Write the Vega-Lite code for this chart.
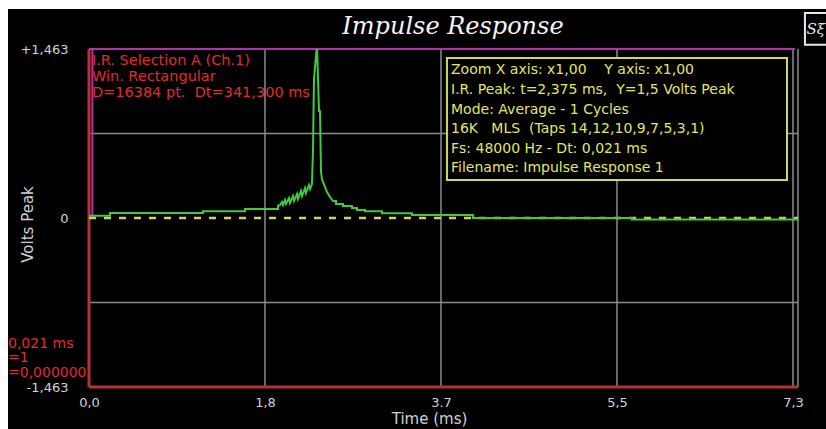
{
  "$schema": "https://vega.github.io/schema/vega-lite/v6.json",
  "width": 709,
  "height": 338,
  "autosize": {"type": "none"},
  "padding": {"left": 89, "top": 49, "right": 28, "bottom": 42},
  "background": "white",
  "config": {
    "view": {"stroke": null},
    "axis": {
      "grid": false, "domain": false, "ticks": false,
      "labelColor": "#d2d2d2", "titleColor": "#d2d2d2",
      "labelFont": "DejaVu Sans", "titleFont": "DejaVu Sans", "titleFontWeight": "normal",
      "labelFlush": false, "labelOverlap": false
    }
  },
  "datasets": {
    "ir": [
      {"i": 1, "t": 0.0, "v": 0.02}, {"i": 2, "t": 0.218, "v": 0.02}, {"i": 3, "t": 0.218, "v": 0.043},
      {"i": 4, "t": 1.182, "v": 0.043}, {"i": 5, "t": 1.182, "v": 0.058}, {"i": 6, "t": 1.618, "v": 0.058},
      {"i": 7, "t": 1.618, "v": 0.078}, {"i": 8, "t": 1.96, "v": 0.078}, {"i": 9, "t": 1.96, "v": 0.106},
      {"i": 10, "t": 1.981, "v": 0.113}, {"i": 11, "t": 2.001, "v": 0.139}, {"i": 12, "t": 2.012, "v": 0.113},
      {"i": 13, "t": 2.032, "v": 0.156}, {"i": 14, "t": 2.043, "v": 0.121}, {"i": 15, "t": 2.074, "v": 0.173},
      {"i": 16, "t": 2.084, "v": 0.13}, {"i": 17, "t": 2.115, "v": 0.19}, {"i": 18, "t": 2.126, "v": 0.147},
      {"i": 19, "t": 2.157, "v": 0.208}, {"i": 20, "t": 2.167, "v": 0.164}, {"i": 21, "t": 2.198, "v": 0.234},
      {"i": 22, "t": 2.209, "v": 0.19}, {"i": 23, "t": 2.24, "v": 0.26}, {"i": 24, "t": 2.25, "v": 0.216},
      {"i": 25, "t": 2.281, "v": 0.286}, {"i": 26, "t": 2.292, "v": 0.251}, {"i": 27, "t": 2.312, "v": 0.294},
      {"i": 28, "t": 2.323, "v": 0.597}, {"i": 29, "t": 2.333, "v": 1.203}, {"i": 30, "t": 2.364, "v": 1.5},
      {"i": 31, "t": 2.385, "v": 0.926}, {"i": 32, "t": 2.395, "v": 0.926}, {"i": 33, "t": 2.406, "v": 0.398},
      {"i": 34, "t": 2.416, "v": 0.338}, {"i": 35, "t": 2.426, "v": 0.312}, {"i": 36, "t": 2.468, "v": 0.225},
      {"i": 37, "t": 2.499, "v": 0.182}, {"i": 38, "t": 2.53, "v": 0.147}, {"i": 39, "t": 2.561, "v": 0.147},
      {"i": 40, "t": 2.561, "v": 0.121}, {"i": 41, "t": 2.634, "v": 0.121}, {"i": 42, "t": 2.634, "v": 0.104},
      {"i": 43, "t": 2.727, "v": 0.104}, {"i": 44, "t": 2.727, "v": 0.087}, {"i": 45, "t": 2.779, "v": 0.087},
      {"i": 46, "t": 2.779, "v": 0.069}, {"i": 47, "t": 2.862, "v": 0.069}, {"i": 48, "t": 2.862, "v": 0.058},
      {"i": 49, "t": 3.038, "v": 0.058}, {"i": 50, "t": 3.038, "v": 0.041}, {"i": 51, "t": 3.349, "v": 0.041},
      {"i": 52, "t": 3.349, "v": 0.025}, {"i": 53, "t": 3.982, "v": 0.025}, {"i": 54, "t": 3.982, "v": 0.0},
      {"i": 55, "t": 5.63, "v": 0.0}, {"i": 56, "t": 5.63, "v": -0.012}, {"i": 57, "t": 7.352, "v": -0.012}
    ],
    "vgrid": [{"t": 1.825}, {"t": 3.65}, {"t": 5.475}, {"t": 7.3}, {"t": 7.352}],
    "hgrid": [{"v": 0.7315}, {"v": -0.7315}]
  },
  "layer": [
    {
      "data": {"values": [{}]},
      "mark": {"type": "rect", "color": "#000000"},
      "encoding": {
        "x": {"datum": -0.84, "type": "quantitative"},
        "x2": {"datum": 8},
        "y": {"datum": 1.81, "type": "quantitative"},
        "y2": {"datum": -2.3}
      }
    },
    {
      "data": {"name": "vgrid"},
      "mark": {"type": "rule", "color": "#8c8c8c", "strokeWidth": 1.5},
      "encoding": {
        "x": {"field": "t", "type": "quantitative"},
        "y": {"datum": -1.463, "type": "quantitative"},
        "y2": {"datum": 1.463}
      }
    },
    {
      "data": {"name": "hgrid"},
      "mark": {"type": "rule", "color": "#8c8c8c", "strokeWidth": 1.5},
      "encoding": {
        "y": {"field": "v", "type": "quantitative"},
        "x": {"datum": 0, "type": "quantitative"},
        "x2": {"datum": 7.352}
      }
    },
    {
      "data": {"values": [{}]},
      "mark": {"type": "rect", "fill": "#000000", "stroke": "#d6d652", "strokeWidth": 2},
      "encoding": {
        "x": {"datum": 3.712, "type": "quantitative"},
        "x2": {"datum": 7.238},
        "y": {"datum": 1.385, "type": "quantitative"},
        "y2": {"datum": 0.329}
      }
    },
    {
      "data": {"values": [{}]},
      "mark": {"type": "rule", "color": "#b42fb4", "strokeWidth": 2},
      "encoding": {
        "y": {"datum": 1.463, "type": "quantitative"},
        "x": {"datum": 0, "type": "quantitative"},
        "x2": {"datum": 7.32}
      }
    },
    {
      "data": {"values": [{}]},
      "mark": {"type": "rule", "color": "#b42fb4", "strokeWidth": 2},
      "encoding": {
        "x": {"datum": 0.035, "type": "quantitative"},
        "y": {"datum": 0, "type": "quantitative"},
        "y2": {"datum": 1.463}
      }
    },
    {
      "data": {"values": [{}]},
      "mark": {"type": "rule", "color": "#b83232", "strokeWidth": 3},
      "encoding": {
        "x": {"datum": 0, "type": "quantitative"},
        "y": {"datum": -1.463, "type": "quantitative"},
        "y2": {"datum": 1.463}
      }
    },
    {
      "data": {"values": [{}]},
      "mark": {"type": "rule", "color": "#b83232", "strokeWidth": 3},
      "encoding": {
        "y": {"datum": -1.463, "type": "quantitative"},
        "x": {"datum": 0, "type": "quantitative"},
        "x2": {"datum": 7.352}
      }
    },
    {
      "data": {"values": [{}]},
      "mark": {"type": "rule", "color": "#d2d25a", "strokeWidth": 2.5, "strokeDash": [7, 8]},
      "encoding": {
        "y": {"datum": 0, "type": "quantitative"},
        "x": {"datum": 0, "type": "quantitative"},
        "x2": {"datum": 7.352}
      }
    },
    {
      "data": {"name": "ir"},
      "mark": {"type": "line", "color": "#3ccc3c", "strokeWidth": 2, "clip": true},
      "encoding": {
        "x": {
          "field": "t", "type": "quantitative",
          "scale": {"domain": [0, 7.352], "nice": false, "zero": false},
          "axis": {
            "zindex": 2,
            "values": [0, 1.825, 3.65, 5.475, 7.3],
            "labelExpr": "datum.value == 0 ? '0,0' : datum.value < 2 ? '1,8' : datum.value < 4 ? '3.7' : datum.value < 6 ? '5,5' : '7,3'",
            "labelFontSize": 13, "labelPadding": 9, "labelDx": 4,
            "title": "Time (ms)", "titleFontSize": 15, "titleX": 340, "titleY": 24,
            "titleAlign": "center", "titleBaseline": "top"
          }
        },
        "y": {
          "field": "v", "type": "quantitative",
          "scale": {"domain": [-1.463, 1.463], "nice": false, "zero": false},
          "axis": {
            "zindex": 2,
            "values": [-1.463, 0, 1.463],
            "labelExpr": "datum.value > 0 ? '+1,463' : datum.value < 0 ? '-1,463' : '0'",
            "labelFontSize": 13, "labelPadding": 21, "labelBaseline": "middle",
            "title": "Volts Peak", "titleFontSize": 15, "titleX": -62, "titleY": 175,
            "titleAngle": 270, "titleAlign": "center", "titleBaseline": "middle"
          }
        },
        "order": {"field": "i", "type": "quantitative"}
      }
    },
    {
      "data": {"values": [{}]},
      "mark": {
        "type": "text", "align": "center", "baseline": "alphabetic", "font": "DejaVu Serif",
        "fontStyle": "italic", "fontSize": 24, "color": "#f4f4f4", "text": "Impulse Response"
      },
      "encoding": {
        "x": {"datum": 3.774, "type": "quantitative"},
        "y": {"datum": 1.593, "type": "quantitative"}
      }
    },
    {
      "data": {"values": [{}]},
      "mark": {
        "type": "text", "align": "left", "baseline": "top", "font": "DejaVu Sans", "fontSize": 14.5,
        "lineHeight": 16, "color": "#e42a2a",
        "text": ["I.R. Selection A (Ch.1)", "Win. Rectangular", "D=16384 pt. \u00a0Dt=341,300 ms"]
      },
      "encoding": {
        "x": {"datum": 0.03, "type": "quantitative"},
        "y": {"datum": 1.42, "type": "quantitative"}
      }
    },
    {
      "data": {"values": [{}]},
      "mark": {
        "type": "text", "align": "left", "baseline": "top", "font": "DejaVu Sans", "fontSize": 14,
        "lineHeight": 14.5, "color": "#e42a2a",
        "text": ["0,021 ms", "=1", "=0,000000"]
      },
      "encoding": {
        "x": {"datum": -0.84, "type": "quantitative"},
        "y": {"datum": -1.03, "type": "quantitative"}
      }
    },
    {
      "data": {"values": [{}]},
      "mark": {
        "type": "text", "align": "left", "baseline": "top", "font": "DejaVu Sans", "fontSize": 14,
        "lineHeight": 19.6, "color": "#e6e65e",
        "text": [
          "Zoom X axis: x1,00 \u00a0\u00a0\u00a0Y axis: x1,00",
          "I.R. Peak: t=2,375 ms, \u00a0Y=1,5 Volts Peak",
          "Mode: Average - 1 Cycles",
          "16K \u00a0\u00a0MLS \u00a0(Taps 14,12,10,9,7,5,3,1)",
          "Fs: 48000 Hz - Dt: 0,021 ms",
          "Filename: Impulse Response 1"
        ]
      },
      "encoding": {
        "x": {"datum": 3.754, "type": "quantitative"},
        "y": {"datum": 1.338, "type": "quantitative"}
      }
    },
    {
      "data": {"values": [{}]},
      "mark": {"type": "rect", "fill": "#000000", "stroke": "#e8e8e8", "strokeWidth": 2},
      "encoding": {
        "x": {"datum": 7.424, "type": "quantitative"},
        "x2": {"datum": 7.75},
        "y": {"datum": 1.775, "type": "quantitative"},
        "y2": {"datum": 1.5}
      }
    },
    {
      "data": {"values": [{}]},
      "mark": {"type": "text", "align": "left", "baseline": "middle", "font": "DejaVu Serif", "fontStyle": "italic", "fontSize": 15, "color": "#e8e8e8", "text": "Sξ"},
      "encoding": {
        "x": {"datum": 7.44, "type": "quantitative"},
        "y": {"datum": 1.64, "type": "quantitative"}
      }
    }
  ]
}
